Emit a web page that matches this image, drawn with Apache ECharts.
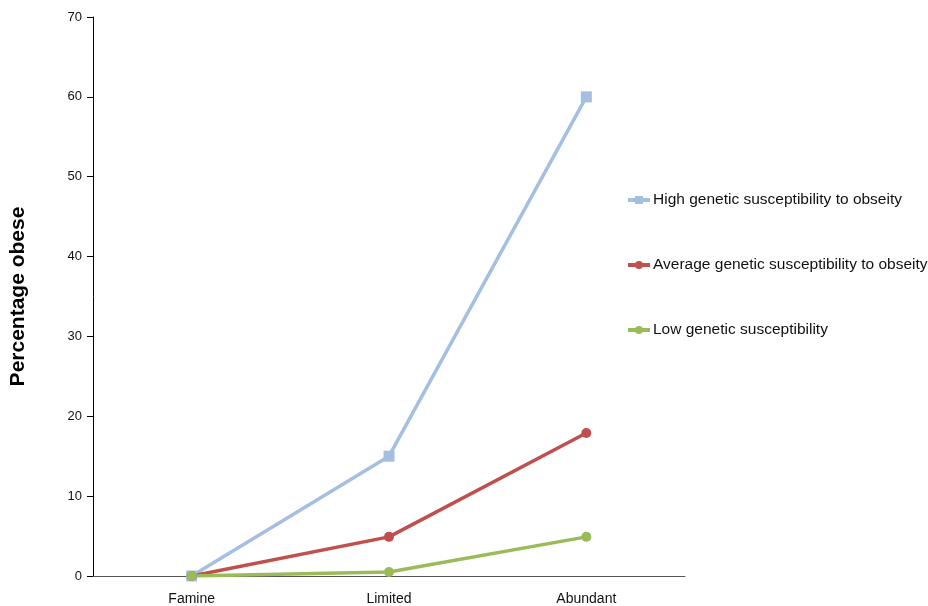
<!DOCTYPE html>
<html>
<head>
<meta charset="utf-8">
<script src="https://cdn.jsdelivr.net/npm/echarts@6/dist/echarts.min.js"></script>
<style>
  html, body { margin: 0; padding: 0; background: #fff; }
  #chart { width: 928px; height: 606px; }
</style>
</head>
<body>
<div id="chart"></div>
<script>
const categories = ['Famine', 'Limited', 'Abundant'];
const highSusceptibility = [0, 15, 60];
const averageSusceptibility = [0, 4.9, 17.9];
const lowSusceptibility = [0, 0.5, 4.9];
const yTicks = { min: 0, max: 70, interval: 10 };

const FONT = '"Liberation Sans", Arial, sans-serif';

const chart = echarts.init(document.getElementById('chart'));

function lineSeries(name, data, color, symbol, size) {
  return {
    name: name,
    type: 'line',
    data: data,
    symbol: symbol,
    symbolSize: size,
    showAllSymbol: true,
    lineStyle: { color: color, width: 3.5 },
    itemStyle: { color: color },
    emphasis: { disabled: true },
    animation: false
  };
}

chart.setOption({
  backgroundColor: '#ffffff',
  animation: false,
  textStyle: { fontFamily: FONT },
  grid: { left: 93, right: 243, top: 17, bottom: 29, containLabel: false },
  legend: {
    orient: 'vertical',
    left: 621,
    top: 187,
    itemGap: 49,
    itemWidth: 22,
    itemHeight: 10,
    lineStyle: { width: 4 },
    textStyle: { fontFamily: FONT, fontSize: 15.5, color: '#111', padding: [0, 0, 0, -2] },
    data: [
      'High genetic susceptibility to obseity',
      'Average genetic susceptibility to obseity',
      'Low genetic susceptibility'
    ]
  },
  xAxis: {
    type: 'category',
    data: categories,
    boundaryGap: true,
    axisLine: { show: true, lineStyle: { color: '#555', width: 1 } },
    axisTick: { show: false },
    axisLabel: { fontFamily: FONT, fontSize: 14, color: '#111', margin: 16 },
    splitLine: { show: false }
  },
  yAxis: {
    type: 'value',
    min: yTicks.min,
    max: yTicks.max,
    interval: yTicks.interval,
    name: 'Percentage obese',
    nameLocation: 'middle',
    nameGap: 64,
    nameRotate: 90,
    nameTextStyle: { fontFamily: FONT, fontSize: 21, fontWeight: 'bold', color: '#000' },
    axisLine: { show: true, lineStyle: { color: '#000', width: 1 } },
    axisTick: { show: true, inside: false, length: 6, lineStyle: { color: '#000' } },
    axisLabel: { fontFamily: FONT, fontSize: 13, color: '#111', margin: 11 },
    splitLine: { show: false }
  },
  series: [
    lineSeries('High genetic susceptibility to obseity', highSusceptibility, '#a4bfe0', 'rect', 11),
    lineSeries('Average genetic susceptibility to obseity', averageSusceptibility, '#c0504d', 'circle', 10),
    lineSeries('Low genetic susceptibility', lowSusceptibility, '#9bbb59', 'circle', 10)
  ]
});
</script>
</body>
</html>
